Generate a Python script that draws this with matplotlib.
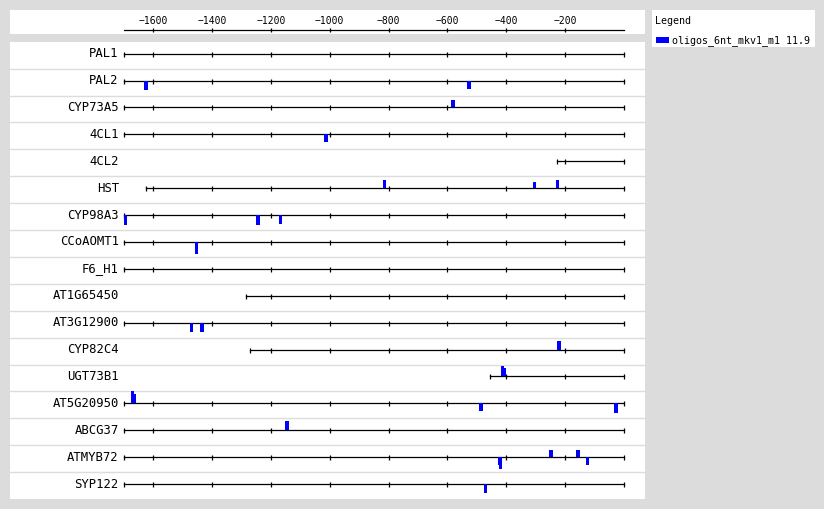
import matplotlib
matplotlib.use('Agg')
import matplotlib.pyplot as plt

# genes (top to bottom) and where each upstream region starts (bp, 0 = gene start)
genes = ['PAL1', 'PAL2', 'CYP73A5', '4CL1', '4CL2', 'HST', 'CYP98A3', 'CCoAOMT1',
         'F6_H1', 'AT1G65450', 'AT3G12900', 'CYP82C4', 'UGT73B1', 'AT5G20950',
         'ABCG37', 'ATMYB72', 'SYP122']
starts = [-1700, -1700, -1700, -1700, -228, -1626, -1700, -1700,
          -1700, -1284, -1700, -1270, -455, -1700,
          -1700, -1700, -1700]

# matched sites: gene, position, strand (+1 above / -1 below), score
site_gene = ['PAL2', 'PAL2', 'CYP73A5', '4CL1', 'HST', 'HST', 'HST',
             'CYP98A3', 'CYP98A3', 'CYP98A3', 'CCoAOMT1', 'AT3G12900', 'AT3G12900',
             'CYP82C4', 'UGT73B1', 'UGT73B1', 'AT5G20950', 'AT5G20950', 'AT5G20950',
             'AT5G20950', 'ABCG37', 'ATMYB72', 'ATMYB72', 'ATMYB72', 'ATMYB72',
             'ATMYB72', 'SYP122']
site_pos = [-1625, -527, -581, -1012, -814, -304, -226,
            -1694, -1243, -1168, -1453, -1470, -1434,
            -221, -412, -405, -1670, -1664, -485,
            -27, -1146, -421, -420, -247, -155,
            -123, -470]
site_strand = [-1, -1, 1, -1, 1, 1, 1,
               -1, -1, -1, -1, -1, -1,
               1, 1, 1, 1, 1, -1,
               -1, 1, -1, -1, 1, 1,
               -1, -1]
site_score = [9, 8, 7, 8, 8, 6, 8,
              10, 10, 9, 12, 9, 9,
              9, 10, 8, 12, 9, 8,
              10, 9, 8, 12, 7, 7,
              8, 9]

scale_ticks = [-1600, -1400, -1200, -1000, -800, -600, -400, -200]
legend_label = 'oligos_6nt_mkv1_m1 11.9'

W, H = 824, 509
bg = '#dcdcdc'
blue = '#0000ff'
mono = 'DejaVu Sans Mono'
xmin, xmax = -2087, 72   # x range covered by the white panels


def px_axes(x0, y0, x1, y1):
    a = fig.add_axes([x0 / W, 1 - y1 / H, (x1 - x0) / W, (y1 - y0) / H])
    a.set_axis_off()
    a.add_patch(plt.Rectangle((0, 0), 1, 1, transform=a.transAxes,
                              facecolor='white', edgecolor='none', zorder=0))
    return a


fig = plt.figure(figsize=(W / 100, H / 100), dpi=100, facecolor=bg)

# scale panel on top
top = px_axes(10, 10, 645, 34.3)
top.set_xlim(xmin, xmax)
top.set_ylim(24.3, 0)
top.plot([-1700, 0], [20.3, 20.3], color='black', lw=0.9)
top.plot(scale_ticks, [20.3] * len(scale_ticks), ls='none', marker='|',
         color='black', markersize=3.5, mew=0.9)
for t in scale_ticks:
    top.text(t, 10.5, '\u2212' + str(-t), ha='center', va='center',
             fontsize=7, family=mono)

# main panel
ax = px_axes(10, 41.7, 645, 499)
ax.set_xlim(xmin, xmax)
n = len(genes)
ax.set_ylim(n, 0)
base = 12 / 27   # baseline offset inside each row

for i in range(1, n):
    ax.axhline(i, color=bg, lw=1.0)

for i, (g, s) in enumerate(zip(genes, starts)):
    y = i + base
    ax.plot([s, 0], [y, y], color='black', lw=0.9)
    tk = [s] + [t for t in scale_ticks if t > s] + [0]
    ax.plot(tk, [y] * len(tk), ls='none', marker='|', color='black',
            markersize=3.6, mew=0.9)
    ax.annotate(g, (-1700, y), xytext=(-5, 0), textcoords='offset pixels',
                ha='right', va='center', fontsize=8.8, family=mono)

row = {g: i for i, g in enumerate(genes)}
for g, p, st, sc in zip(site_gene, site_pos, site_strand, site_score):
    y = row[g] + base
    ax.bar(p, -st * sc / 27, bottom=y, width=12, color=blue, zorder=3)

# legend panel
leg = px_axes(652, 10, 815, 46.7)
leg.set_xlim(0, 163)
leg.set_ylim(36.7, 0)
leg.text(3.5, 11, 'Legend', ha='left', va='center', fontsize=7.2, family=mono)
leg.add_patch(plt.Rectangle((4, 26.7), 13, 6.6, facecolor=blue, edgecolor='none'))
leg.text(19.5, 30.5, legend_label, ha='left', va='center', fontsize=7.2, family=mono)

fig.savefig('out.png', dpi=100, facecolor=bg)
